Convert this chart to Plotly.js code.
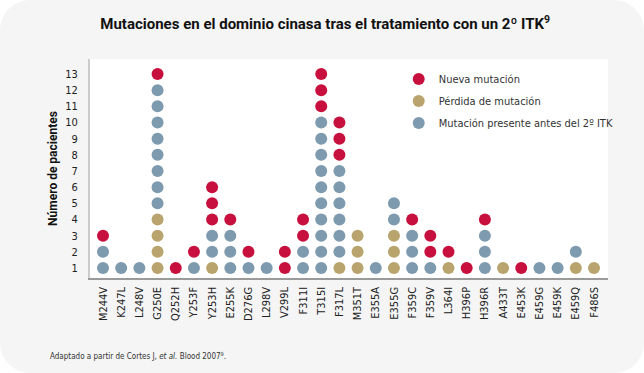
<!DOCTYPE html>
<html>
<head>
<meta charset="utf-8">
<script src="https://cdn.plot.ly/plotly-3.0.1.min.js"></script>
<style>
  html, body { margin: 0; padding: 0; background: #ffffff; }
  #wrap { width: 644px; height: 373px; border-radius: 30px; overflow: hidden; background: #f5f5f5; }
  #chart { width: 644px; height: 373px; }
</style>
</head>
<body>
<div id="wrap"><div id="chart"></div></div>
<script>
// Data
const categories = ["M244V","K247L","L248V","G250E","Q252H","Y253F","Y253H","E255K","D276G","L298V","V299L","F311I","T315I","F317L","M351T","E355A","E355G","F359C","F359V","L364I","H396P","H396R","A433T","E453K","E459G","E459K","E459Q","F486S"];
// Pérdida de mutación (bottom of each column)
const perdida  = [0,0,0,4,0,0,1,0,0,0,0,0,0,1,3,0,3,0,0,1,0,0,1,0,0,0,1,1];
// Mutación presente antes del 2º ITK (middle)
const presente = [2,1,1,8,0,1,2,3,1,1,0,2,10,6,0,1,2,3,1,0,0,3,0,0,1,1,1,0];
// Nueva mutación (top)
const nueva    = [1,0,0,1,1,1,3,1,1,0,2,2,3,3,0,0,0,1,2,1,1,1,0,1,0,0,0,0];
const yTicks = [1,2,3,4,5,6,7,8,9,10,11,12,13];

const colors = { nueva: "#c8103e", perdida: "#b8a46c", presente: "#7e9aae" };

function stackPoints(which) {
  const xs = [], ys = [];
  categories.forEach((c, i) => {
    const g = perdida[i], b = presente[i], r = nueva[i];
    let start, n;
    if (which === "perdida") { start = 1; n = g; }
    else if (which === "presente") { start = g + 1; n = b; }
    else { start = g + b + 1; n = r; }
    for (let k = 0; k < n; k++) { xs.push(c); ys.push(start + k); }
  });
  return { xs, ys };
}

const red = stackPoints("nueva"), gold = stackPoints("perdida"), blue = stackPoints("presente");
const mk = (col) => ({ color: col, size: 12, line: { width: 0 } });

const traces = [
  { type: "scatter", mode: "markers", name: "Nueva mutación", legendgroup: "a", x: red.xs, y: red.ys, marker: mk(colors.nueva), hoverinfo: "skip" },
  { type: "scatter", mode: "markers", name: "Pérdida de mutación", legendgroup: "b", x: gold.xs, y: gold.ys, marker: mk(colors.perdida), hoverinfo: "skip" },
  { type: "scatter", mode: "markers", name: "Mutación presente antes del 2º ITK", legendgroup: "c", x: blue.xs, y: blue.ys, marker: mk(colors.presente), hoverinfo: "skip" }
];

const font = "'DejaVu Sans Condensed', 'Roboto', sans-serif";

const layout = {
  width: 644, height: 373,
  paper_bgcolor: "rgba(0,0,0,0)",
  plot_bgcolor: "#ffffff",
  margin: { l: 90, r: 36, t: 59, b: 95 },
  showlegend: true,
  legend: {
    x: 0.596, y: 0.975, xanchor: "left", yanchor: "top",
    bgcolor: "rgba(0,0,0,0)",
    font: { family: font, size: 11, color: "#333333" },
    itemwidth: 30,
    tracegroupgap: 3
  },
  title: {
    text: "Mutaciones en el dominio cinasa tras el tratamiento con un 2º ITK<sup>9</sup>",
    font: { family: "'Roboto', sans-serif", size: 15, color: "#111111", weight: "bold" },
    x: 0.505, xanchor: "center", y: 0.935, yanchor: "middle"
  },
  xaxis: {
    type: "category",
    categoryorder: "array", categoryarray: categories,
    range: [-0.715, 27.77],
    showgrid: false, zeroline: false,
    showline: true, linecolor: "#9a9a9a", linewidth: 1.5,
    ticks: "", tickangle: -90,
    tickfont: { family: font, size: 11, color: "#222222" },
    ticklabelstandoff: 3,
    fixedrange: true
  },
  yaxis: {
    range: [0.38, 13.93],
    tickvals: yTicks, ticktext: yTicks.map(String),
    showgrid: false, zeroline: false,
    showline: true, linecolor: "#cccccc", linewidth: 2,
    ticks: "",
    tickfont: { family: font, size: 11, color: "#222222" },
    ticklabelstandoff: 8,
    title: { text: "Número de pacientes", font: { family: "'Roboto', sans-serif", size: 12, color: "#111111", weight: "bold" }, standoff: 5 },
    fixedrange: true
  },
  annotations: [
    {
      text: "Adaptado a partir de Cortes J, <i>et al.</i> Blood 2007<sup>9</sup>.",
      xref: "paper", yref: "paper", x: -0.081, y: -0.355, xanchor: "left", yanchor: "middle",
      showarrow: false, font: { family: font, size: 8, color: "#333333" }
    }
  ]
};

Plotly.newPlot("chart", traces, layout, { displayModeBar: false, staticPlot: true });
</script>
</body>
</html>
